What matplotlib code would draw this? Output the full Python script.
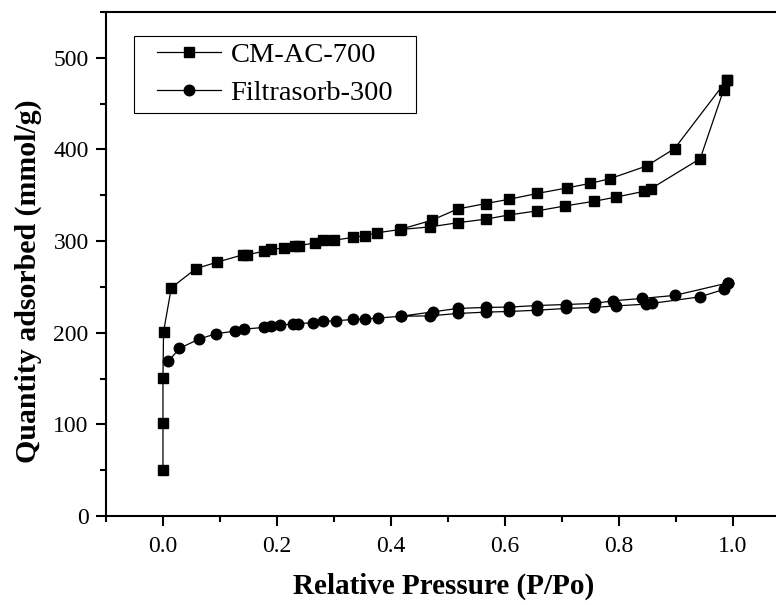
import matplotlib
matplotlib.use('Agg')
import matplotlib.pyplot as plt
from matplotlib.patches import Rectangle
from matplotlib.ticker import MultipleLocator

# CM-AC-700: adsorption branch then desorption branch (measurement order)
cm_ads_p = [0.0, 0.0, 0.0, 0.001, 0.0146, 0.058, 0.095, 0.140, 0.147, 0.178, 0.190, 0.213,
            0.232, 0.238, 0.267, 0.281, 0.301, 0.333, 0.355, 0.375, 0.416, 0.469, 0.517,
            0.567, 0.608, 0.657, 0.706, 0.757, 0.795, 0.845, 0.856, 0.943, 0.984, 0.990]
cm_ads_q = [50, 101, 151, 201, 249, 270, 277, 285, 285, 289, 291.5, 292,
            295, 295, 298, 301, 301, 304, 306, 309, 312.6, 315.5, 320,
            324, 328.6, 333, 338.4, 343.5, 348, 354.4, 357, 390, 465, 476]
cm_des_p = [0.990, 0.898, 0.849, 0.784, 0.750, 0.709, 0.657, 0.608, 0.567, 0.517, 0.472, 0.418]
cm_des_q = [476, 401, 382, 368, 363, 358, 352, 345.7, 341, 335, 322.8, 313]

# Filtrasorb-300
fs_ads_p = [0.0093, 0.029, 0.063, 0.0935, 0.126, 0.143, 0.178, 0.190, 0.206, 0.229, 0.237,
            0.264, 0.281, 0.303, 0.333, 0.355, 0.377, 0.418, 0.469, 0.517, 0.567, 0.608,
            0.657, 0.707, 0.757, 0.796, 0.848, 0.858, 0.943, 0.984, 0.992]
fs_ads_q = [168.7, 183, 193, 199, 201.7, 204, 205.8, 207.5, 208, 210, 210,
            211, 212.6, 213, 214.5, 215, 216, 218, 218.4, 221, 222.5, 223.2,
            224.6, 226.5, 227.6, 229.3, 231.2, 232, 239.2, 247.2, 254.4]
fs_des_p = [0.992, 0.898, 0.840, 0.789, 0.758, 0.707, 0.657, 0.608, 0.567, 0.517, 0.474, 0.418]
fs_des_q = [254.4, 240.7, 237.4, 234.8, 232, 230.8, 229.7, 228, 227.6, 226.5, 222.8, 218]

plt.rcParams['font.family'] = ['Liberation Serif', 'DejaVu Serif']

fig = plt.figure(figsize=(7.76, 6.05), dpi=100)
# right spine sits just past the image edge, as in the cropped original
ax = fig.add_axes([106 / 776, 89 / 605, (789.7 - 106) / 776, 504 / 605])

line_kw = dict(color='black', linewidth=0.9)
ax.plot(cm_ads_p + cm_des_p, cm_ads_q + cm_des_q, marker='s', markersize=7.3,
        label='CM-AC-700', **line_kw)
ax.plot(fs_ads_p + fs_des_p, fs_ads_q + fs_des_q, marker='o', markersize=7.6,
        label='Filtrasorb-300', **line_kw)

ax.set_xlim(-0.1, 1.1)
ax.set_ylim(0, 550)
ax.xaxis.set_minor_locator(MultipleLocator(0.1))
ax.yaxis.set_major_locator(MultipleLocator(100))
ax.yaxis.set_minor_locator(MultipleLocator(50))
ax.set_xticks([0.0, 0.2, 0.4, 0.6, 0.8, 1.0])
ax.tick_params(which='major', direction='out', length=7.5, width=1.5, labelsize=17,
               top=False, right=False)
ax.tick_params(axis='x', which='major', pad=7)
ax.tick_params(axis='y', which='major', pad=5)
ax.tick_params(which='minor', direction='out', length=4, width=1.5, top=False, right=False)
for spine in ax.spines.values():
    spine.set_linewidth(1.5)

ax.set_xlabel('Relative Pressure (P/Po)', fontsize=21, fontweight='bold')
ax.set_ylabel('Quantity adsorbed (mmol/g)', fontsize=21.5, fontweight='bold')
ax.xaxis.set_label_coords(0.494, -0.112)
ax.yaxis.set_label_coords(-0.094, 0.465)

leg = ax.legend(loc='upper left', bbox_to_anchor=(0.066, 0.952), borderaxespad=0,
                fontsize=20.5, fancybox=False, framealpha=1,
                handlelength=2.25, borderpad=0.22, labelspacing=0.42, handletextpad=0.32)
leg.get_frame().set_edgecolor('none')

# the original legend box has wider side margins than top/bottom ones,
# so draw its outline around the legend with extra horizontal room
fig.canvas.draw()
bb = leg.get_window_extent().transformed(fig.transFigure.inverted())
side = 17 / 776
fig.add_artist(Rectangle((bb.x0 - side, bb.y0), bb.width + 2 * side, bb.height,
                         transform=fig.transFigure, facecolor='none',
                         edgecolor='black', linewidth=0.8, zorder=5))

fig.savefig('out.png', dpi=100)
